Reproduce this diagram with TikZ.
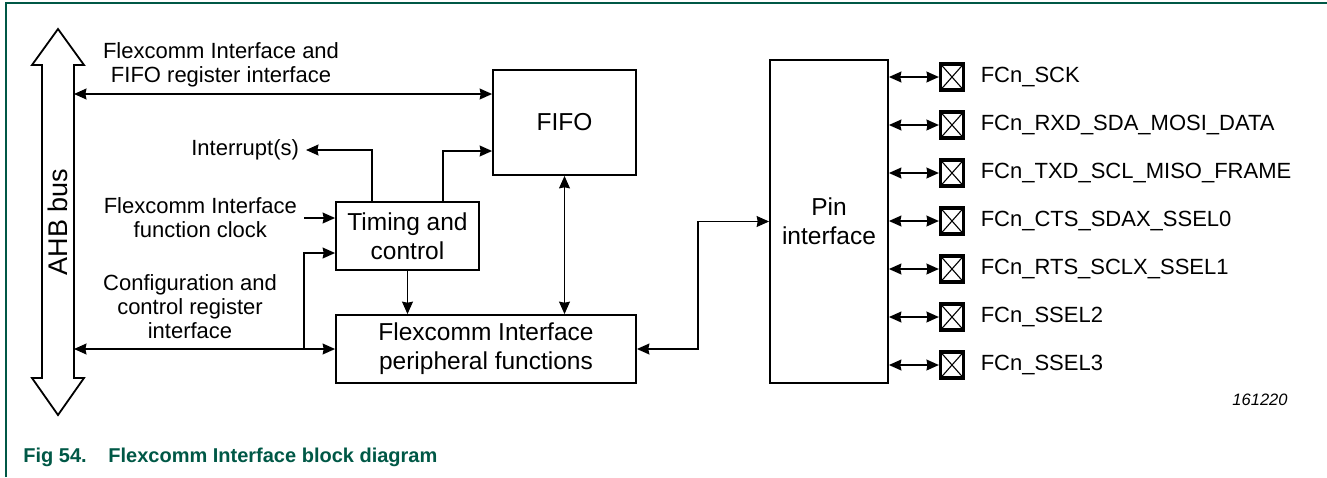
\documentclass[tikz,border=0pt]{standalone}
\usepackage{fontspec}
\setmainfont{Liberation Sans}
\usetikzlibrary{arrows.meta,positioning}
\definecolor{nxpgreen}{RGB}{0,88,70}

\begin{document}
\begin{tikzpicture}[x=0.5pt,y=-0.5pt,>={Stealth[length=6.2pt,width=5.4pt,inset=0.5pt]},
  blk/.style={draw,line width=0.9pt,align=center,inner sep=0pt,font=\fontsize{12.25}{14.5}\selectfont},
  lbl/.style={align=center,font=\fontsize{11}{12}\selectfont},
  pad/.style={draw,line width=1.6pt,minimum width=11.5pt,minimum height=13pt,inner sep=0pt,
    path picture={\draw[line width=0.55pt] (path picture bounding box.north west) -- (path picture bounding box.south east)
      (path picture bounding box.south west) -- (path picture bounding box.north east);}},
  wire/.style={line width=0.9pt},
  capt/.style={inner sep=0pt,text=nxpgreen,font=\bfseries\fontsize{10}{12}\selectfont}]
  \useasboundingbox (0,0) rectangle (1327,477);

  % Frame
  \draw[nxpgreen,line width=1pt] (6,477) -- (6,2.5) -- (1327,2.5);

  % AHB bus
  \draw[line width=0.9pt] (58,29) -- (84,65) -- (74,65) -- (74,378) -- (84,378) -- (58,415)
    -- (32,378) -- (42,378) -- (42,65) -- (32,65) -- cycle;
  \node[rotate=90,font=\fontsize{13.5}{15}\selectfont] (ahb) at (58,222) {AHB bus};
  \coordinate (bus1) at (74,94);
  \coordinate (bus2) at (74,349);

  % Blocks
  \node[blk,minimum width=71.5pt,minimum height=52.5pt] (fifo) at (564.5,122.5) {FIFO};
  \node[blk,minimum width=71.5pt,minimum height=34pt] (timing) at (407.5,236) {Timing and\\control};
  \node[blk,minimum width=150pt,minimum height=34pt] (periph) at (486,349) {Flexcomm Interface\\peripheral functions};
  \node[blk,minimum width=59pt,minimum height=161.5pt] (pin) at (829,221.5) {Pin\\interface};

  % Labels
  \node[lbl] (reglbl) at (221,65) {Flexcomm Interface and\\FIFO register interface};
  \node[lbl,anchor=east] (intr) at (306,150) {Interrupt(s)};
  \node[lbl,anchor=east] (clk) at (304,218) {Flexcomm Interface\\function clock};
  \node[lbl] (cfglbl) at (190,307) {Configuration and\\control register\\interface};

  % Connections
  \draw[wire,<->] (bus1) -- (bus1 -| fifo.west);
  \draw[wire,<->] (bus2) -- (bus2 -| periph.west);
  \draw[wire,->] (timing.north -| 372,0) |- (intr.east);
  \draw[wire,->] (timing.north -| 443,0) |- (fifo.west |- 0,151);
  \draw[wire,->] (clk.east) -- (clk.east -| timing.west);
  \coordinate (tap) at (304,349);
  \draw[wire,->] (tap) |- (timing.west |- 0,253);
  \draw[wire,->] (timing.south) -- (timing.south |- periph.north);
  \draw[wire,<->] (fifo.south) -- (fifo.south |- periph.north);
  \draw[wire,<->] (periph.east) -- ++(61,0) |- (pin.west);

  % Pins
  \foreach \i/\pinname in {0/FCn\_SCK,1/FCn\_RXD\_SDA\_MOSI\_DATA,2/FCn\_TXD\_SCL\_MISO\_FRAME,
      3/FCn\_CTS\_SDAX\_SSEL0,4/FCn\_RTS\_SCLX\_SSEL1,5/FCn\_SSEL2,6/FCn\_SSEL3}{
    \node[pad] (pad\i) at (952,77+48*\i) {};
    \draw[wire,<->] (pin.east |- pad\i.west) -- (pad\i.west);
    \node[lbl,right=4.3pt of pad\i] (pinlbl\i) {\pinname};
  }

  \node[font=\fontsize{8.25}{10}\selectfont\itshape] (code) at (1260,400) {161220};

  % Caption
  \node[capt,anchor=base west] (fignum) at (23,462) {Fig 54.};
  \node[capt,anchor=base west] (figttl) at (108,462) {Flexcomm Interface block diagram};
\end{tikzpicture}
\end{document}
